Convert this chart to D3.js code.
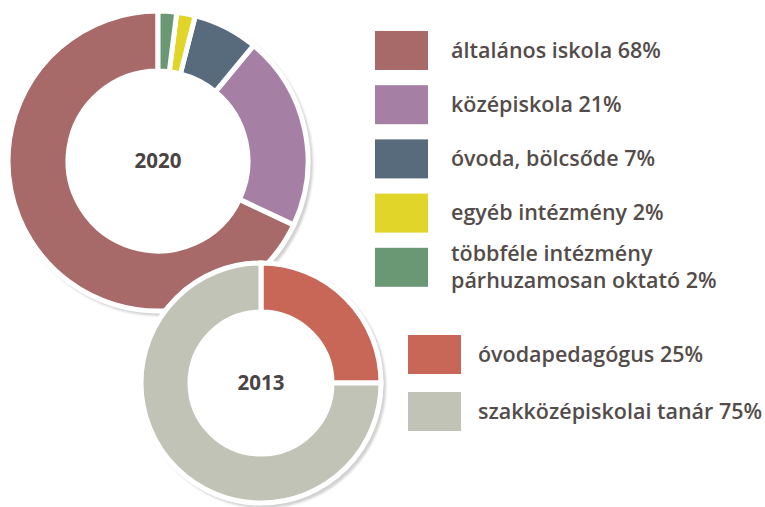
<!DOCTYPE html>
<html>
<head>
<meta charset="utf-8">
<script src="https://cdn.jsdelivr.net/npm/d3@7"></script>
<style>
  body { margin: 0; background: #fff; }
  text { font-family: "Open Sans", "Noto Sans", sans-serif; }
</style>
</head>
<body>
<div id="chart"></div>
<script>
// 2020 data (legend order)
const labels2020 = ['általános iskola 68%', 'középiskola 21%', 'óvoda, bölcsőde 7%', 'egyéb intézmény 2%', 'többféle intézmény|párhuzamosan oktató 2%'];
const values2020 = [68, 21, 7, 2, 2];
const colors2020 = ['#a86a69', '#a67fa5', '#586b7c', '#e2d52a', '#6b9874'];

// 2013 data
const labels2013 = ['óvodapedagógus 25%', 'szakközépiskolai tanár 75%'];
const values2013 = [25, 75];
const colors2013 = ['#c86758', '#c2c3b7'];

const width = 765, height = 507;
const textColor = '#544c4a';

const svg = d3.select('#chart')
  .append('svg')
    .attr('width', width)
    .attr('height', height);

const defs = svg.append('defs');
const shadow = defs.append('filter')
  .attr('id', 'shadow')
  .attr('x', '-10%').attr('y', '-10%')
  .attr('width', '120%').attr('height', '120%');
shadow.append('feDropShadow')
  .attr('dx', 3).attr('dy', 3)
  .attr('stdDeviation', 1)
  .attr('flood-color', '#999')
  .attr('flood-opacity', 0.45);

function drawDonut(cx, cy, inner, outer, values, colors, clockwise, year) {
  const g = svg.append('g')
    .attr('transform', `translate(${cx},${cy})`);

  // white backing disc carries the shadow
  g.append('circle')
    .attr('r', outer + 2)
    .attr('fill', '#fff')
    .attr('filter', 'url(#shadow)');

  const pie = d3.pie()
    .sort(null)
    .startAngle(0)
    .endAngle(clockwise ? Math.PI * 2 : -Math.PI * 2);

  const arc = d3.arc()
    .innerRadius(inner)
    .outerRadius(outer);

  g.selectAll('path')
    .data(pie(values))
    .enter().append('path')
      .attr('d', arc)
      .attr('fill', (d, i) => colors[i])
      .attr('stroke', '#fff')
      .attr('stroke-width', 5)
      .attr('stroke-linejoin', 'miter');

  g.append('text')
    .attr('text-anchor', 'middle')
    .attr('dy', '0.36em')
    .style('font-size', '20.5px')
    .style('font-weight', 700)
    .style('fill', '#4a4444')
    .text(year);
}

drawDonut(158, 161, 90, 150, values2020, colors2020, false, '2020');
drawDonut(261, 383, 71, 120, values2013, colors2013, true, '2013');

// Legends
function drawLegend(x, y0, step, textX, labels, colors) {
  const y = d3.scaleLinear().domain([0, 1]).range([y0, y0 + step]);
  const rows = svg.append('g')
    .selectAll('g')
    .data(labels)
    .enter().append('g')
      .attr('transform', (d, i) => `translate(${x},${y(i)})`);

  rows.append('rect')
    .attr('width', 53)
    .attr('height', 39)
    .attr('fill', (d, i) => colors[i]);

  rows.each(function(d) {
    const lines = d.split('|');
    const t = d3.select(this).append('text')
      .style('font-size', '21.5px')
      .style('font-weight', 600)
      .style('fill', textColor);
    lines.forEach((line, j) => {
      t.append('tspan')
        .attr('x', textX)
        .attr('y', lines.length === 1 ? 26.5 : 13 + j * 27.5)
        .text(line);
    });
  });
}

drawLegend(375, 31, 54.2, 76, labels2020, colors2020);
drawLegend(408, 335, 57, 70, labels2013, colors2013);
</script>
</body>
</html>
